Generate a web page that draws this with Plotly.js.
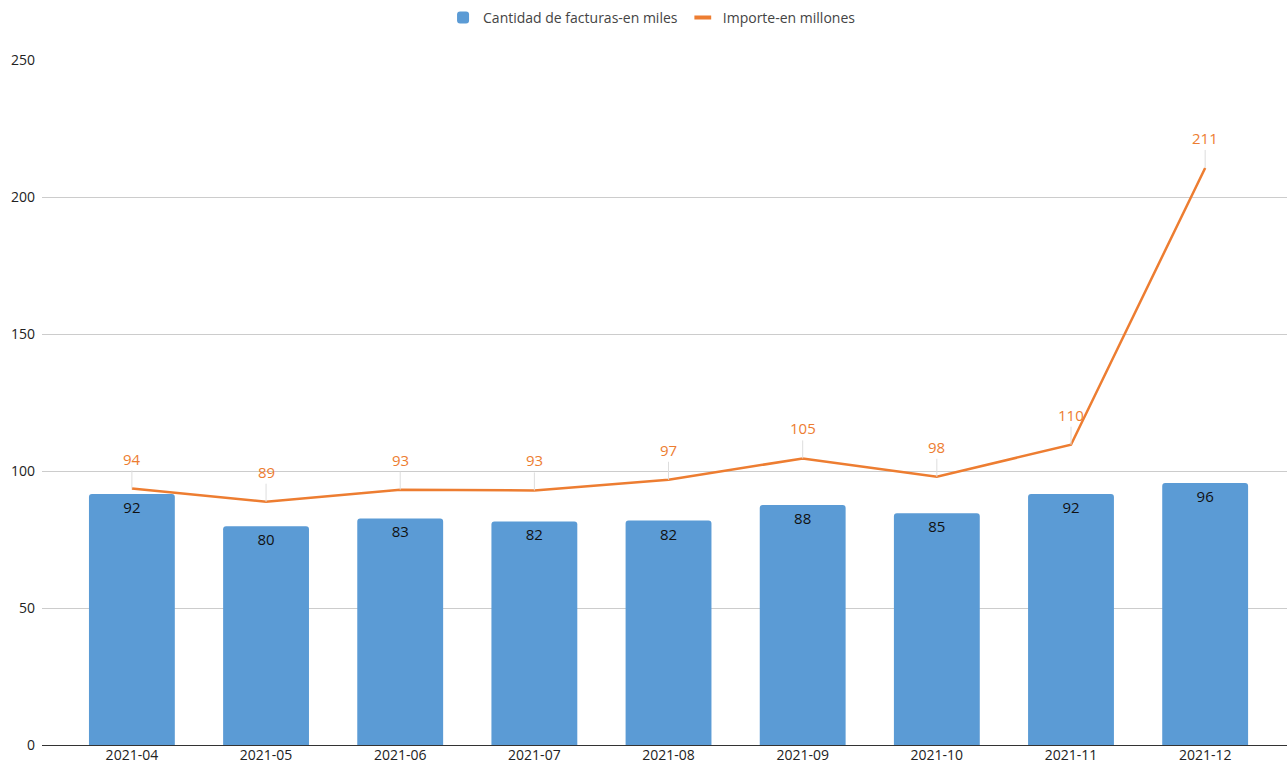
<!DOCTYPE html>
<html>
<head>
<meta charset="utf-8">
<script src="https://cdn.plot.ly/plotly-3.0.1.min.js"></script>
<style>html,body{margin:0;padding:0;background:#fff;}#chart{width:1287px;height:769px;}</style>
</head>
<body>
<div id="chart"></div>
<script>
const months = ["2021-04","2021-05","2021-06","2021-07","2021-08","2021-09","2021-10","2021-11","2021-12"];
const facturas = [91.6, 79.8, 82.7, 81.6, 81.9, 87.6, 84.6, 91.6, 95.6];
const importe = [93.6, 88.8, 93.2, 92.9, 96.8, 104.6, 97.9, 109.6, 210.6];
const facturasName = "Cantidad de facturas-en miles";
const importeName = "Importe-en millones";
const yTicks = [0, 50, 100, 150, 200, 250];

const blue = "#5b9bd5";
const orange = "#ed7d31";
const fontFam = "Open Sans, sans-serif";

const traces = [
  {
    type: "bar",
    x: months,
    y: facturas,
    name: facturasName,
    marker: {color: blue, cornerradius: 3},
    width: 0.64,
    text: facturas.map(v => Math.round(v).toString()),
    textposition: "inside",
    insidetextanchor: "end",
    textangle: 0,
    textfont: {color: "#111", size: 15, family: fontFam},
    hoverinfo: "x+y"
  },
  {
    type: "scatter",
    mode: "lines",
    x: months,
    y: importe,
    name: importeName,
    showlegend: false,
    line: {color: orange, width: 2.5}
  },
  {
    type: "scatter",
    mode: "markers",
    x: [null],
    y: [null],
    name: importeName,
    marker: {symbol: "line-ew-open", size: 12, color: orange, line: {color: orange, width: 4}}
  }
];

const annotations = months.map((m, i) => ({
  x: m, y: importe[i], xref: "x", yref: "y",
  text: Math.round(importe[i]).toString(),
  showarrow: true, arrowhead: 0, arrowwidth: 1, arrowcolor: "#dddddd",
  ax: 0, ay: -18, standoff: 0,
  font: {color: orange, size: 15, family: fontFam},
  yanchor: "bottom"
}));

const layout = {
  width: 1287, height: 769,
  margin: {l: 42, r: 0, t: 60, b: 24},
  paper_bgcolor: "#fff", plot_bgcolor: "#fff",
  font: {family: fontFam, color: "#333", size: 14},
  showlegend: true,
  legend: {orientation: "h", x: 0.49, xanchor: "center", y: 1.085, yanchor: "top",
           font: {size: 14, color: "#444"}, itemwidth: 30, traceorder: "normal"},
  xaxis: {type: "category", range: [-0.67, 8.61], showgrid: false, zeroline: false,
          showline: false, ticks: "", tickfont: {size: 14, color: "#222"}, fixedrange: true},
  yaxis: {range: [0, 250], tickvals: yTicks, ticktext: yTicks.map(String),
          showgrid: true, gridcolor: "#cccccc", gridwidth: 1,
          zeroline: true, zerolinecolor: "#333", zerolinewidth: 1,
          tickfont: {size: 14, color: "#222"}, ticklabelstandoff: 6, fixedrange: true},
  annotations: annotations,
  bargap: 0.36
};

Plotly.newPlot("chart", traces, layout, {displayModeBar: false, staticPlot: true});
</script>
</body>
</html>
